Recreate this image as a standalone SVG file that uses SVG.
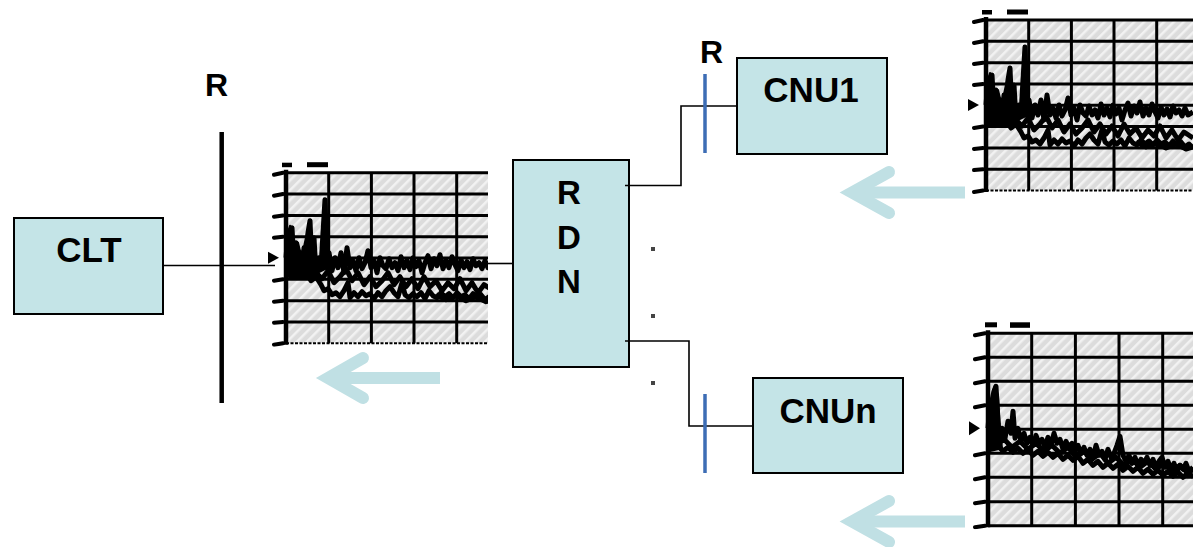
<svg xmlns="http://www.w3.org/2000/svg" width="1193" height="547" viewBox="0 0 1193 547">
<style>
.box{fill:#c4e4e7;stroke:#000;stroke-width:2}
.lbl{font-family:"Liberation Sans",Arial,sans-serif;font-weight:bold;font-size:35px;fill:#000;text-anchor:middle}
.wire{stroke:#000;stroke-width:1.6;fill:none}
.ref{stroke:#3d6db5;stroke-width:3.5;fill:none}
.arr{stroke:#c0e0e4;stroke-width:12;fill:none}
.head{stroke:#c0e0e4;stroke-width:12;fill:none;stroke-linecap:round;stroke-linejoin:miter}
.grid{stroke:#000;stroke-width:3;fill:none}
.axis{stroke:#000;stroke-width:4.5;fill:none}
.tick{stroke:#000;stroke-width:4;stroke-linecap:round;fill:none}
.trace{fill:none;stroke:#000;stroke-width:5;stroke-linejoin:round}
.mass{fill:#000;stroke:#000;stroke-width:2;stroke-linejoin:round}
.dot{fill:#444}
</style>
<defs>
<pattern id="hatch" width="7" height="7" patternUnits="userSpaceOnUse" patternTransform="rotate(45)">
<rect width="7" height="7" fill="#dcdcdc"/>
<rect width="2.5" height="7" fill="#f2f2f2"/>
</pattern>
<clipPath id="clipA1"><rect x="-20" y="-12" width="222" height="186"/></clipPath>
<clipPath id="clipA2"><rect x="-20" y="-12" width="227" height="186"/></clipPath>
<clipPath id="clipB"><rect x="-20" y="-12" width="225" height="208"/></clipPath>
<g id="spectrumA">
<rect x="0" y="0" width="215" height="170.6" fill="url(#hatch)"/>
<path class="grid" d="M42.7,0V170.6M85.4,0V170.6M128,0V170.6M170.7,0V170.6M0,0H215M0,21.3H215M0,42.7H215M0,64H215M0,85.3H215M0,106.6H215M0,128H215M0,149.3H215"/>
<path d="M0,170.6H215" stroke="#000" stroke-width="2" stroke-dasharray="3 1.5"/>
<path class="axis" d="M0,-3V172"/>
<path class="tick" d="M-12,2L-3,0M-12,23L-3,21.3M-12,44L-3,42.7M-12,65L-3,64M-12,108L-3,106.6M-12,129L-3,128M-12,150L-3,149.3M-12,172L-3,170.6"/>
<polygon points="-18,79 -7,85 -18,91" fill="#000"/>
<rect x="-4" y="-10" width="10" height="4.5" fill="#000"/>
<rect x="21" y="-10.5" width="21" height="5" fill="#000"/>
<path class="mass" d="M1,104L1,62L4,53L7,64L9,75L12,70L15,82L18,74L21,60L24,47L27,82L30,86L33,96L36,88L38,30L40,27L42,95L20,106Z"/>
<path class="trace" d="M0,85L2,60L4,95L6,55L8,92L10,70L12,98L14,80L16,100L18,75L20,96L22,60L24,48L26,95L28,65L30,100L33,85L35,95L37,60L39,27L41,95L43,80L46,98L49,85L52,95L55,80L58,100L61,75L64,95L67,88L70,98L73,85L76,96L79,90L82,78L85,95L88,88L91,100L94,85L97,93L100,96L103,86L106,95L109,90L112,98L115,84L118,95L121,88L124,97L127,85L130,94L133,88L136,100L139,90L142,83L145,96L148,86L151,93L154,82L157,96L160,88L163,95L166,84L169,92L172,98L175,87L178,95L181,89L184,97L187,86L190,93L193,90L196,96L199,88L202,95L207,92"/>
<path class="trace" d="M0,95L5,100L10,98L15,104L20,100L25,108L30,104L35,112L38,118L42,116L46,122L50,120L54,124L58,118L62,110L64,125L68,120L72,124L76,119L80,123L84,121L88,126L92,120L96,124L100,118L104,114L108,120L112,124L116,110L119,122L123,125L127,121L131,124L135,120L139,126L143,118L147,123L151,125L155,120L159,124L163,121L167,125L171,120L175,124L179,122L183,126L187,121L191,125L195,122L199,127L203,124L207,128"/>
<path class="trace" d="M0,100L6,96L12,104L18,98L24,106L30,100L36,106L42,98L48,110L54,104L60,96L66,108L72,100L78,112L84,104L90,114L96,108L102,100L108,112L114,104L120,114L126,106L132,116L138,104L144,114L150,108L156,118L162,110L168,116L174,106L180,118L186,110L192,120L198,112L207,118" stroke-width="3"/>
<path class="trace" d="M150,122L160,127L170,123L180,128L190,124L200,129L207,127" stroke-width="6"/>
</g>
<g id="spectrumB">
<rect x="0" y="0" width="215" height="192.4" fill="url(#hatch)"/>
<path class="grid" d="M43.7,0V192.4M87.4,0V192.4M131,0V192.4M174.7,0V192.4M0,0H215M0,24H215M0,48H215M0,72H215M0,96H215M0,120H215M0,144H215M0,168.4H215"/>
<path d="M0,192.4H215" stroke="#000" stroke-width="3"/>
<path class="axis" d="M0,-3V194"/>
<path class="tick" d="M-13,2L-3,0M-13,26L-3,24M-13,50L-3,48M-13,74L-3,72M-13,122L-3,120M-13,146L-3,144M-13,170L-3,168.4M-13,194L-3,192.4"/>
<polygon points="-19,88 -8,95 -19,102" fill="#000"/>
<rect x="-3" y="-11" width="12" height="5" fill="#000"/>
<rect x="22" y="-11" width="20" height="5.5" fill="#000"/>
<path class="mass" d="M1,118L1,75L4,60L7,52L10,62L12,95L14,115Z"/>
<path class="trace" d="M0,95L2,70L4,100L6,58L8,53L10,90L12,110L14,95L17,105L20,88L23,100L25,78L27,105L30,95L33,108L36,100L39,110L42,104L45,112L48,102L51,110L54,106L57,114L60,104L63,112L66,100L69,110L72,106L75,116L78,108L81,114L84,110L87,118L90,112L93,120L96,114L99,122L102,116L105,124L108,112L111,122L114,118L117,126L120,116L123,124L126,120L129,112L132,103L135,122L138,128L141,122L144,130L147,124L150,132L153,126L156,130L159,124L162,132L165,126L168,134L171,128L174,124L177,134L180,128L183,136L186,130L189,138L192,132L195,136L198,130L201,138L205,134" stroke-width="5.5"/>
<path class="trace" d="M0,110L5,115L10,112L15,118L20,114L25,119L30,115L35,120L40,116L45,122L50,118L55,123L60,119L65,124L70,120L75,126L80,122L85,127L90,123L95,130L100,126L105,132L110,128L115,134L120,130L125,135L130,131L135,137L140,133L145,138L150,134L155,140L160,136L165,141L170,137L175,142L180,138L185,143L190,139L195,144L200,140L205,143" stroke-width="5.5"/>
<path class="trace" d="M0,104L8,110L16,106L24,114L32,108L40,116L48,110L56,118L64,112L72,120L80,114L88,124L96,118L104,126L112,120L120,130L128,124L136,132L144,126L152,134L160,128L168,136L176,130L184,138L192,132L200,140L205,136" stroke-width="3.5"/>
</g>
</defs>

<g id="arrows">
<path class="arr" d="M440,378H332"/>
<path class="head" d="M363,358L328,378L363,398"/>
<path class="arr" d="M965,192.5H856"/>
<path class="head" d="M889,172L852,192.5L889,213"/>
<path class="arr" d="M965,521.5H856"/>
<path class="head" d="M889,501L852,521.5L889,542"/>
</g>

<g id="CLT"><rect class="box" x="14" y="218" width="149" height="96"/><text class="lbl" x="89" y="262">CLT</text></g>
<g id="RDN"><rect class="box" x="513" y="160" width="116" height="207"/>
<text class="lbl" x="569" y="204" style="font-size:33px">R</text>
<text class="lbl" x="569" y="249" style="font-size:33px">D</text>
<text class="lbl" x="569" y="293" style="font-size:33px">N</text></g>
<g id="CNU1"><rect class="box" x="737" y="58" width="150" height="96"/><text class="lbl" x="811" y="102">CNU1</text></g>
<g id="CNUn"><rect class="box" x="753" y="378" width="150" height="95"/><text class="lbl" x="828" y="423">CNUn</text></g>

<g id="connectors">
<path class="wire" d="M163,265.5H275"/>
<path class="wire" d="M486,263.5H513"/>
<path class="wire" d="M625,185.5H681V106H737"/>
<path class="wire" d="M625,341H689V426H753"/>
</g>

<g id="reference-points">
<path d="M221.7,132V403" stroke="#000" stroke-width="4.5"/>
<text class="lbl" x="216.5" y="96" style="font-size:32px">R</text>
<path class="ref" d="M705,74V153"/>
<path class="ref" d="M705,394V473"/>
<text class="lbl" x="711.5" y="63" style="font-size:32px">R</text>
<rect class="dot" x="651" y="247" width="4" height="4"/>
<rect class="dot" x="651" y="314" width="4" height="4"/>
<rect class="dot" x="651" y="381" width="4" height="4"/>
</g>

<g id="spectrum-clt" transform="translate(286,172.7)"><g clip-path="url(#clipA1)"><use href="#spectrumA"/></g></g>
<g id="spectrum-cnu1" transform="translate(986,20)"><g clip-path="url(#clipA2)"><use href="#spectrumA"/></g></g>
<g id="spectrum-cnun" transform="translate(988,333.3)"><g clip-path="url(#clipB)"><use href="#spectrumB"/></g></g>
</svg>
